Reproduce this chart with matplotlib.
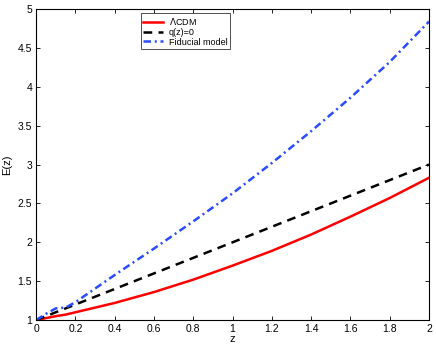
import numpy as np
import matplotlib.pyplot as plt

plt.rcParams['font.family'] = ['Liberation Sans', 'DejaVu Sans']

# values
z = [0, 0.05, 0.1, 0.15, 0.2, 0.4, 0.6, 0.8, 1.0, 1.2, 1.4, 1.6, 1.8, 2.0]
e_lcdm = [1.0, 1.025, 1.05, 1.07, 1.10, 1.22, 1.36, 1.52, 1.70, 1.89, 2.10, 2.33, 2.57, 2.83]
e_q0 = [1.0, 1.05, 1.10, 1.15, 1.20, 1.40, 1.60, 1.80, 2.00, 2.20, 2.40, 2.60, 2.80, 3.00]
e_fid = [1.0, 1.08, 1.15, 1.16, 1.23, 1.58, 1.92, 2.27, 2.63, 3.02, 3.43, 3.86, 4.32, 4.84]

fig = plt.figure(figsize=(4.36, 3.49), dpi=100)
ax = fig.add_axes([0.083, 0.083, 0.901, 0.891])

ax.plot(z, e_lcdm, color='#ff0000', lw=1.8, label=r'$\Lambda$CDM')
ax.plot(z, e_q0, color='black', lw=1.8, ls=(0, (3.5, 2.5)), label='q(z)=0')
ax.plot(z, e_fid, color='#2b4bff', lw=1.8, ls=(0, (3, 1.5, 0.8, 1.5)), label='Fiducial model')

ax.set_xlim(0, 2)
ax.set_ylim(1, 5)
ax.set_xticks(np.arange(0, 2.01, 0.2))
ax.set_xticklabels(['0', '0.2', '0.4', '0.6', '0.8', '1', '1.2', '1.4', '1.6', '1.8', '2'])
ax.set_yticks(np.arange(1, 5.01, 0.5))
ax.set_yticklabels(['1', '1.5', '2', '2.5', '3', '3.5', '4', '4.5', '5'])
ax.tick_params(direction='in', top=True, right=True, labelsize=7.5, length=3, width=0.6, pad=3)
for s in ax.spines.values():
    s.set_linewidth(0.8)

ax.set_xlabel('z', fontsize=8, labelpad=0)
ax.set_ylabel('E(z)', fontsize=8, labelpad=4)

leg = ax.legend(loc='upper left', bbox_to_anchor=(0.266, 0.987), fontsize=6.5, frameon=True,
                fancybox=False, edgecolor='black', handlelength=2.2, borderpad=0.3,
                labelspacing=0.1, handletextpad=0.6, borderaxespad=0)
leg.get_frame().set_linewidth(0.6)

fig.savefig('out.png', dpi=100)
